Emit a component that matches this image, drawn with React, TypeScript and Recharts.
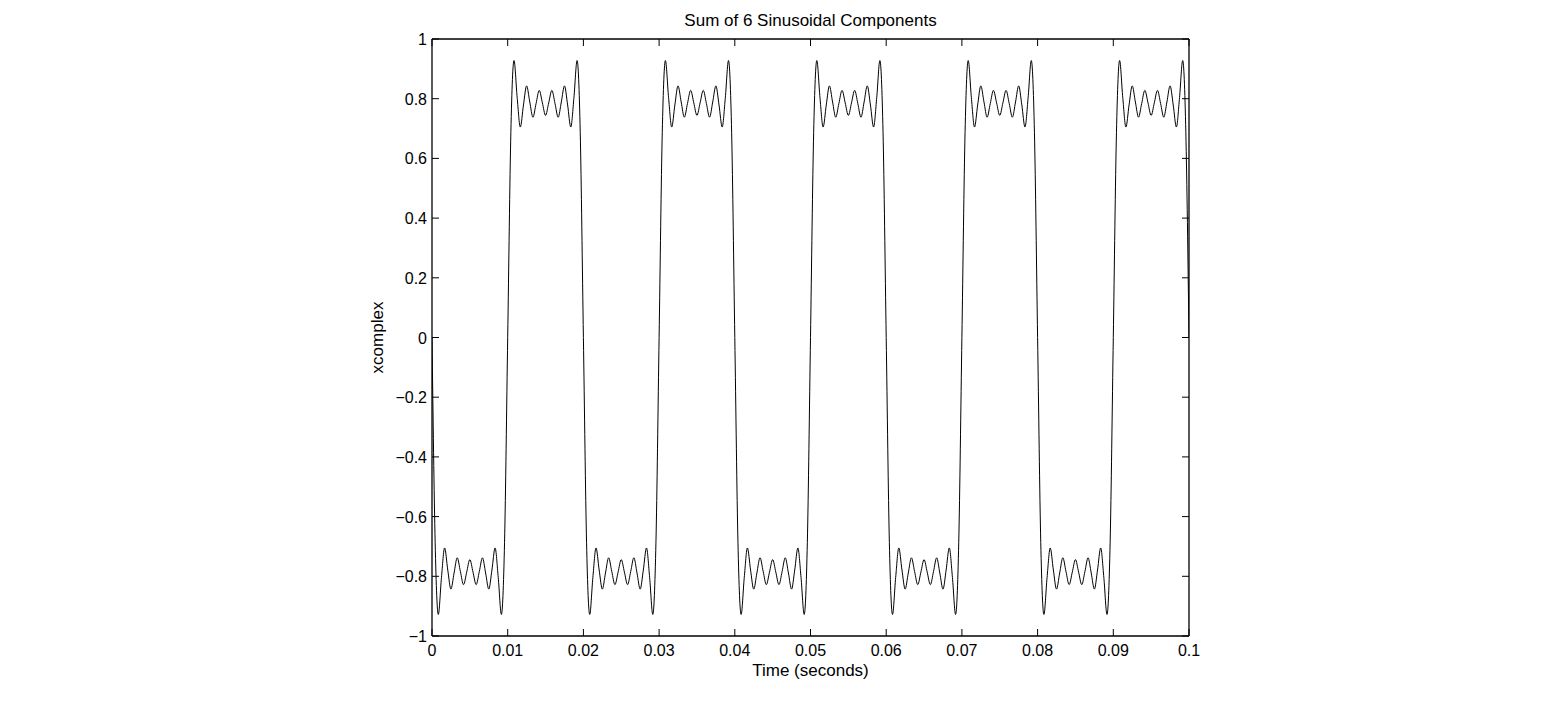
import { Line, LineChart, XAxis, YAxis } from "recharts";

const periodValues = [
  0, -0.686, -0.928, -0.804, -0.705, -0.779, -0.843, -0.789, -0.738, -0.784, -0.828, -0.786,
  -0.744, -0.786, -0.828, -0.784, -0.738, -0.789, -0.843, -0.779, -0.705, -0.804, -0.928, -0.686,
  0, 0.686, 0.928, 0.804, 0.705, 0.779, 0.843, 0.789, 0.738, 0.784, 0.828, 0.786,
  0.744, 0.786, 0.828, 0.784, 0.738, 0.789, 0.843, 0.779, 0.705, 0.804, 0.928, 0.686,
];
const periodSeconds = 0.02;
const periodCount = 5;

const xTicks = [0, 0.01, 0.02, 0.03, 0.04, 0.05, 0.06, 0.07, 0.08, 0.09, 0.1];
const xTickLabels = ["0", "0.01", "0.02", "0.03", "0.04", "0.05", "0.06", "0.07", "0.08", "0.09", "0.1"];
const yTicks = [-1, -0.8, -0.6, -0.4, -0.2, 0, 0.2, 0.4, 0.6, 0.8, 1];
const yTickLabels = ["\u22121", "\u22120.8", "\u22120.6", "\u22120.4", "\u22120.2", "0", "0.2", "0.4", "0.6", "0.8", "1"];

const title = "Sum of 6 Sinusoidal Components";
const xLabel = "Time (seconds)";
const yLabel = "xcomplex";

const step = periodSeconds / periodValues.length;
const data: { t: number; v: number }[] = [];
for (let p = 0; p < periodCount; p++) {
  periodValues.forEach((v, i) => data.push({ t: (p * periodValues.length + i) * step, v }));
}
data.push({ t: periodCount * periodSeconds, v: periodValues[0] });

const W = 1564;
const H = 720;
// plot box: x 432..1189, y 39..636 (each axis takes 1px)
const M = { top: 38, right: 374, bottom: 83, left: 431 };
const TICK = 7;
const FONT = "'Liberation Sans', Arial, Helvetica, sans-serif";

const labelFor = (ticks: number[], labels: string[], value: number) => {
  const i = ticks.findIndex((t) => Math.abs(t - value) < 1e-9);
  return i >= 0 ? labels[i] : String(value);
};

const BottomTick = (props: any) => {
  const { x, y, payload } = props;
  return (
    <g>
      <line x1={x} y1={y} x2={x} y2={y - TICK} stroke="#000" strokeWidth={1} />
      <text x={x} y={y + 20} textAnchor="middle" fontSize={16} fill="#000" fontFamily={FONT}>
        {labelFor(xTicks, xTickLabels, payload.value)}
      </text>
    </g>
  );
};

const TopTick = (props: any) => {
  const { x, y } = props;
  return <line x1={x} y1={y} x2={x} y2={y + TICK} stroke="#000" strokeWidth={1} />;
};

const LeftTick = (props: any) => {
  const { x, y, payload } = props;
  return (
    <g>
      <line x1={x} y1={y} x2={x + TICK} y2={y} stroke="#000" strokeWidth={1} />
      <text x={x - 5} y={y + 6} textAnchor="end" fontSize={16} fill="#000" fontFamily={FONT}>
        {labelFor(yTicks, yTickLabels, payload.value)}
      </text>
    </g>
  );
};

const RightTick = (props: any) => {
  const { x, y } = props;
  return <line x1={x} y1={y} x2={x - TICK} y2={y} stroke="#000" strokeWidth={1} />;
};

const frame = { stroke: "#000", strokeWidth: 1.3 };

export default function App() {
  const cx = (432 + 1189) / 2;
  const cy = (39 + 636) / 2;
  return (
    <div style={{ position: "absolute", left: 0, top: 0, width: W, height: H, background: "#fff", fontFamily: FONT }}>
      <LineChart width={W} height={H} data={data} margin={M}>
        <XAxis xAxisId="b" dataKey="t" type="number" orientation="bottom" domain={[0, 0.1]} ticks={xTicks}
          height={1} tickSize={0} tickMargin={0} interval={0} tickLine={false} axisLine={frame} tick={<BottomTick />} allowDataOverflow />
        <XAxis xAxisId="t" dataKey="t" type="number" orientation="top" domain={[0, 0.1]} ticks={xTicks}
          height={1} tickSize={0} tickMargin={0} interval={0} tickLine={false} axisLine={frame} tick={<TopTick />} allowDataOverflow />
        <YAxis yAxisId="l" dataKey="v" type="number" orientation="left" domain={[-1, 1]} ticks={yTicks}
          width={1} tickSize={0} tickMargin={0} interval={0} tickLine={false} axisLine={frame} tick={<LeftTick />} allowDataOverflow />
        <YAxis yAxisId="r" dataKey="v" type="number" orientation="right" domain={[-1, 1]} ticks={yTicks}
          width={1} tickSize={0} tickMargin={0} interval={0} tickLine={false} axisLine={frame} tick={<RightTick />} allowDataOverflow />
        <Line xAxisId="b" yAxisId="l" dataKey="v" type="monotone" stroke="#000" strokeWidth={1}
          dot={false} activeDot={false} isAnimationActive={false} />
      </LineChart>
      <svg width={W} height={H} style={{ position: "absolute", left: 0, top: 0, pointerEvents: "none" }}>
        <text x={cx} y={26} textAnchor="middle" fontSize={17} fill="#000" fontFamily={FONT}>{title}</text>
        <text x={cx} y={676} textAnchor="middle" fontSize={17} fill="#000" fontFamily={FONT}>{xLabel}</text>
        <text x={383} y={cy} textAnchor="middle" fontSize={17} fill="#000" fontFamily={FONT}
          transform={`rotate(-90 383 ${cy})`}>{yLabel}</text>
      </svg>
    </div>
  );
}
